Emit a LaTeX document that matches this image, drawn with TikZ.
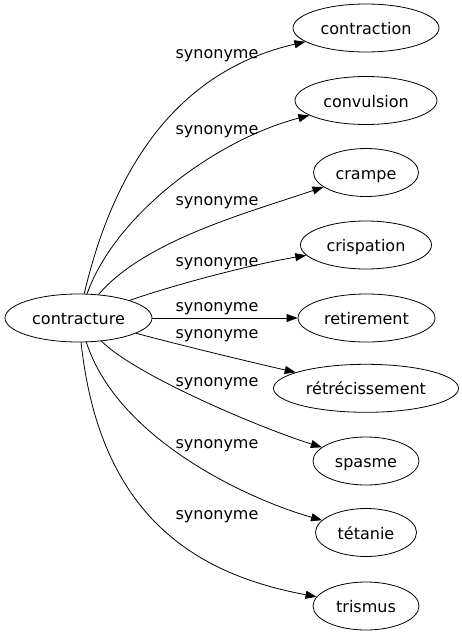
\documentclass[tikz,border=0pt]{standalone}
\usepackage{fontspec}
\setmainfont{DejaVu Sans}
\usetikzlibrary{shapes.geometric,arrows.meta}
\begin{document}
\begin{tikzpicture}[x=1pt,y=-1pt,
  word/.style={ellipse,draw,line width=0.8pt,inner sep=0pt,minimum height=48pt,
    font=\fontsize{16}{19}\selectfont,text height=13pt,text depth=0pt},
  lbl/.style={anchor=base,inner sep=0pt,font=\fontsize{16}{19}\selectfont},
  syn/.style={draw,line width=0.8pt,-{Triangle[length=11pt,width=8pt]}}]
\useasboundingbox (0,0) rectangle (462,635);
\node[word,minimum width=147pt] (contracture) at (78.5,318) {contracture};
\node[word,minimum width=146pt] (contraction) at (366,28) {contraction};
\node[word,minimum width=142pt] (convulsion) at (366,100.5) {convulsion};
\node[word,minimum width=105pt] (crampe) at (366,172.5) {crampe};
\node[word,minimum width=131pt] (crispation) at (366,245) {crispation};
\node[word,minimum width=137pt] (retirement) at (366.5,318) {retirement};
\node[word,minimum width=185pt] (retrecissement) at (366,388.3) {rétrécissement};
\node[word,minimum width=106pt] (spasme) at (366,461) {spasme};
\node[word,minimum width=101pt] (tetanie) at (366,532.5) {tétanie};
\node[word,minimum width=106pt] (trismus) at (366,606) {trismus};

\node[lbl] (l1) at (217,58) {synonyme};
\node[lbl] (l2) at (217,134) {synonyme};
\node[lbl] (l3) at (217,205) {synonyme};
\node[lbl] (l4) at (217,266) {synonyme};
\node[lbl] (l5) at (217,311.5) {synonyme};
\node[lbl] (l6) at (217,338.5) {synonyme};
\node[lbl] (l7) at (217,386) {synonyme};
\node[lbl] (l8) at (217,448) {synonyme};
\node[lbl] (l9) at (217,519) {synonyme};

\path[syn] (contracture) .. controls (118,150) and (190,68) .. (contraction);
\path[syn] (contracture) .. controls (115,215) and (215,140) .. (convulsion);
\path[syn] (contracture) .. controls (145,240) and (250,212) .. (crampe);
\path[syn] (contracture) .. controls (180,283) and (250,265) .. (crispation);
\path[syn] (contracture) -- (retirement);
\path[syn] (contracture) .. controls (180,345) and (250,362) .. (retrecissement);
\path[syn] (contracture) .. controls (135,375) and (260,428) .. (spasme);
\path[syn] (contracture) .. controls (118,440) and (250,500) .. (tetanie);
\path[syn] (contracture) .. controls (100,520) and (200,575) .. (trismus);
\end{tikzpicture}
\end{document}
